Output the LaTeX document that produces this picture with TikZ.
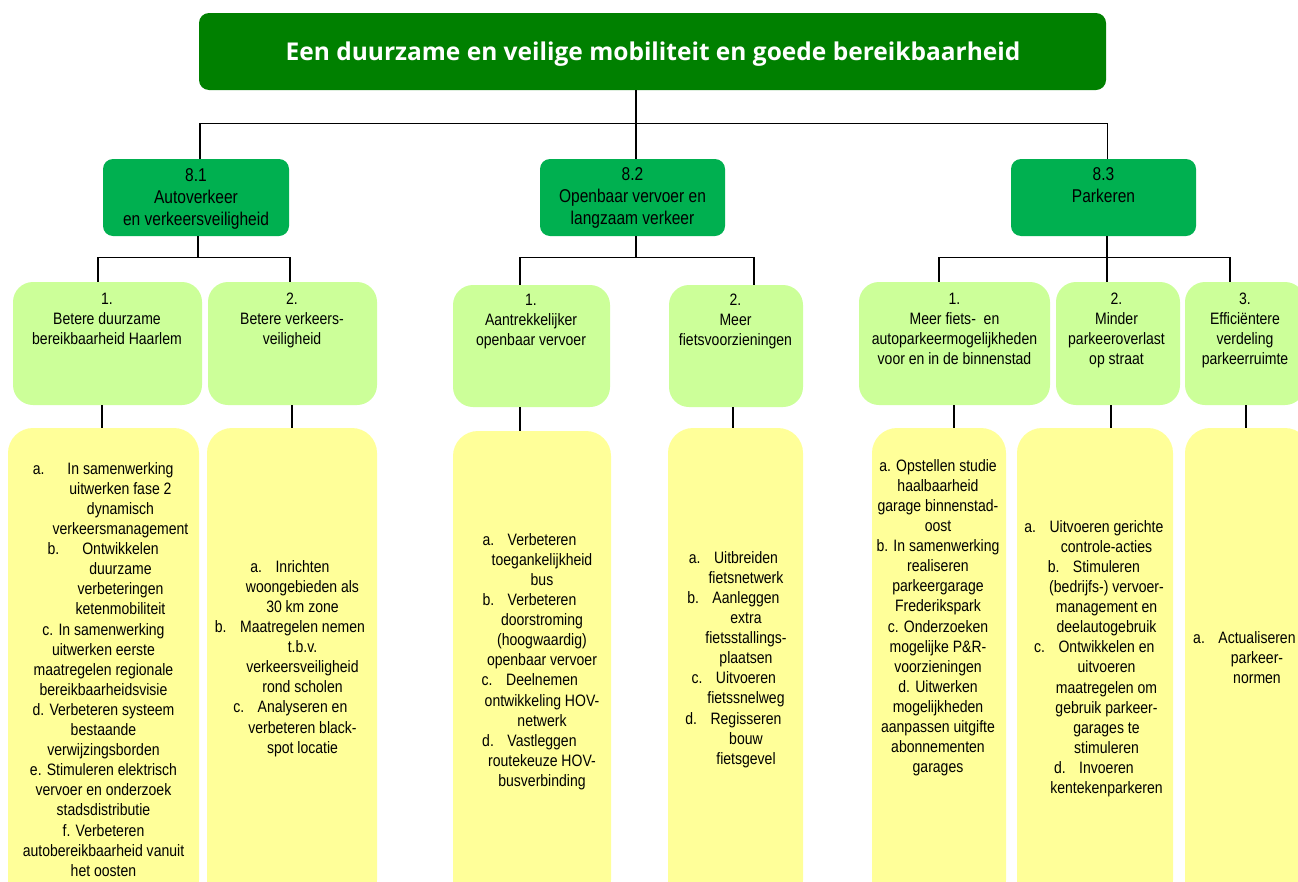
\documentclass[tikz,border=0pt]{standalone}
\usepackage{fontspec}
\setmainfont{Liberation Sans}
\newfontfamily\narrow{Liberation Sans}[FakeStretch=0.85]
\newfontfamily\narrowB{Liberation Sans}[FakeStretch=0.84]
\newfontfamily\titlefont{Open Sans}
\definecolor{dkgreen}{RGB}{0,128,0}
\definecolor{midgreen}{RGB}{0,176,80}
\definecolor{ltgreen}{RGB}{204,255,153}
\definecolor{ylw}{RGB}{255,255,153}
\newcommand\fs{\rule{0pt}{14pt}}
\newcommand\fsb{\rule{0pt}{16pt}}
\newcommand\lab[2]{\llap{#1\hspace{#2}}}
\newcommand\lb[1]{\llap{#1\hspace{13.5pt}}}
\newcommand\sh{\hspace*{34pt}}
\begin{document}
\begin{tikzpicture}[x=1pt,y=-1pt,
  titlebox/.style={fill=dkgreen, rounded corners=10pt, inner sep=0pt, draw=none},
  lvtwo/.style={fill=midgreen, rounded corners=10pt, inner sep=0pt, minimum height=77pt},
  lvthree/.style={fill=ltgreen, rounded corners=20pt, inner sep=0pt},
  lvfour/.style={fill=ylw, rounded corners=25pt, inner sep=0pt},
  txt/.style={align=center, inner sep=0pt, anchor=north, text=black,
    font=\narrow\fontsize{16.5}{20.1}\selectfont},
  txttwo/.style={align=center, inner sep=0pt, anchor=north, text=black,
    font=\narrowB\fontsize{18.5}{22}\selectfont},
  conn/.style={draw=black, line width=1.2pt}]
\useasboundingbox (0,0) rectangle (1298,881);
\clip (0,0) rectangle (1298,881);
\fill[white] (0,0) rectangle (1298,881);

% title
\node[titlebox, minimum width=907pt, minimum height=77pt] (title) at (652.5,51.5) {};
\node[anchor=base, inner sep=0pt, text=white, font=\titlefont\bfseries\fontsize{24.5}{30}\selectfont] (titletxt) at (653,60) {Een duurzame en veilige mobiliteit en goede bereikbaarheid};

% level 2
\node[lvtwo, minimum width=186pt] (l2a) at (196,197.5) {};
\node[lvtwo, minimum width=185pt] (l2b) at (632.5,197.5) {};
\node[lvtwo, minimum width=185pt] (l2c) at (1103.5,197.5) {};
\node[txttwo] (t2a) at (196,165) {\fsb 8.1\\Autoverkeer\\en verkeersveiligheid};
\node[txttwo] (t2b) at (632.5,164) {\fsb 8.2\\Openbaar vervoer en\\langzaam verkeer};
\node[txttwo] (t2c) at (1103.5,164) {\fsb 8.3\\Parkeren};

% level 3
\node[lvthree, minimum width=189pt, minimum height=123pt] (l3a) at (107.5,343.5) {};
\node[lvthree, minimum width=169pt, minimum height=123pt] (l3b) at (292.5,343.5) {};
\node[lvthree, minimum width=157pt, minimum height=122pt] (l3c) at (531.5,346) {};
\node[lvthree, minimum width=134pt, minimum height=122pt] (l3d) at (736,346) {};
\node[lvthree, minimum width=191pt, minimum height=123pt] (l3e) at (954.5,343.5) {};
\node[lvthree, minimum width=124pt, minimum height=123pt] (l3f) at (1118,343.5) {};
\node[lvthree, minimum width=120pt, minimum height=123pt] (l3g) at (1245,343.5) {};
\node[txt] (t3a) at (107,290) {\fs 1.\\Betere duurzame\\bereikbaarheid Haarlem};
\node[txt] (t3b) at (292,290) {\fs 2.\\Betere verkeers-\\veiligheid};
\node[txt] (t3c) at (531,291) {\fs 1.\\Aantrekkelijker\\openbaar vervoer};
\node[txt] (t3d) at (735.5,291) {\fs 2.\\Meer\\fietsvoorzieningen};
\node[txt] (t3e) at (954.5,290) {\fs 1.\\Meer fiets-~ en\\autoparkeermogelijkheden\\voor en in de binnenstad};
\node[txt] (t3f) at (1116.5,290) {\fs 2.\\Minder\\parkeeroverlast\\op straat};
\node[txt] (t3g) at (1245,290) {\fs 3.\\Efficiëntere\\verdeling\\parkeerruimte};

% level 4
\node[lvfour, minimum width=191pt, minimum height=477pt] (l4a) at (103.5,666.5) {};
\node[lvfour, minimum width=170pt, minimum height=477pt] (l4b) at (292,666.5) {};
\node[lvfour, minimum width=158pt, minimum height=474pt] (l4c) at (532,668) {};
\node[lvfour, minimum width=135pt, minimum height=477pt] (l4d) at (735.5,666.5) {};
\node[lvfour, minimum width=134pt, minimum height=477pt] (l4e) at (939,666.5) {};
\node[lvfour, minimum width=156pt, minimum height=477pt] (l4f) at (1095,666.5) {};
\node[lvfour, minimum width=125pt, minimum height=477pt] (l4g) at (1247.5,666.5) {};

\node[txt] (t4a) at (103.5,460) {\fs\sh\lab{a.}{23pt}In samenwerking\\
\sh uitwerken fase 2\\
\sh dynamisch\\
\sh verkeersmanagement\\
\sh\lab{b.}{23pt}Ontwikkelen\\
\sh duurzame\\
\sh verbeteringen\\
\sh ketenmobiliteit\\
c. In samenwerking\\
uitwerken eerste\\
maatregelen regionale\\
bereikbaarheidsvisie\\
d. Verbeteren systeem\\
bestaande\\
verwijzingsborden\\
e. Stimuleren elektrisch\\
vervoer en onderzoek\\
stadsdistributie\\
f. Verbeteren\\
autobereikbaarheid vanuit\\
het oosten};

\node[txt] (t4b) at (302.5,558) {\fs\lb{a.}Inrichten\\woongebieden als\\30 km zone\\
\lb{b.}Maatregelen nemen\\t.b.v.\\verkeersveiligheid\\rond scholen\\
\lb{c.}Analyseren en\\verbeteren black-\\spot locatie};

\node[txt] (t4c) at (542,531) {\fs\lb{a.}Verbeteren\\toegankelijkheid\\bus\\
\lb{b.}Verbeteren\\doorstroming\\(hoogwaardig)\\openbaar vervoer\\
\lb{c.}Deelnemen\\ontwikkeling HOV-\\netwerk\\
\lb{d.}Vastleggen\\routekeuze HOV-\\busverbinding};

\node[txt] (t4d) at (746,549) {\fs\lb{a.}Uitbreiden\\fietsnetwerk\\
\lb{b.}Aanleggen\\extra\\fietsstallings-\\plaatsen\\
\lb{c.}Uitvoeren\\fietssnelweg\\
\lb{d.}Regisseren\\bouw\\fietsgevel};

\node[txt] (t4e) at (938,457) {\fs a. Opstellen studie\\haalbaarheid\\garage binnenstad-\\oost\\
b. In samenwerking\\realiseren\\parkeergarage\\Frederikspark\\
c. Onderzoeken\\mogelijke P\&R-\\voorzieningen\\
d. Uitwerken\\mogelijkheden\\aanpassen uitgifte\\abonnementen\\garages};

\node[txt] (t4f) at (1106.5,518) {\fs\lb{a.}Uitvoeren gerichte\\controle-acties\\
\lb{b.}Stimuleren\\(bedrijfs-) vervoer-\\management en\\deelautogebruik\\
\lb{c.}Ontwikkelen en\\uitvoeren\\maatregelen om\\gebruik parkeer-\\garages te\\stimuleren\\
\lb{d.}Invoeren\\kentekenparkeren};

\node[txt] (t4g) at (1257,629) {\fs\lb{a.}Actualiseren\\parkeer-\\normen};

% connectors: title to level 2
\draw[conn] ([xshift=-16.5pt]title.south) -- ++(0,34);
\draw[conn] ([xshift=4pt]l2a.north) -- ++(0,-35) -| ([xshift=4pt]l2c.north);
\draw[conn] ([xshift=3.5pt]l2b.north) -- ++(0,-35);

% level 2 to level 3
\draw[conn] ([xshift=2pt]l2a.south) -- ++(0,22);
\draw[conn] ([xshift=-9.5pt]l3a.north) -- ++(0,-24) -| ([xshift=-2.5pt]l3b.north);
\draw[conn] ([xshift=3.5pt]l2b.south) -- ++(0,22);
\draw[conn] ([xshift=-11.5pt]l3c.north) -- ++(0,-27) -| ([xshift=18pt]l3d.north);
\draw[conn] ([xshift=3.5pt]l2c.south) -- ([xshift=3.5pt]l2c.south |- l3f.north);
\draw[conn] ([xshift=-15.5pt]l3e.north) -- ++(0,-24) -| ([xshift=-15pt]l3g.north);

% level 3 to level 4
\draw[conn] ([xshift=-5.5pt]l3a.south) -- ([xshift=-5.5pt]l3a.south |- l4a.north);
\draw[conn] ([xshift=-0.5pt]l3b.south) -- ([xshift=-0.5pt]l3b.south |- l4b.north);
\draw[conn] ([xshift=-11.5pt]l3c.south) -- ([xshift=-11.5pt]l3c.south |- l4c.north);
\draw[conn] ([xshift=-3pt]l3d.south) -- ([xshift=-3pt]l3d.south |- l4d.north);
\draw[conn] ([xshift=-0.5pt]l3e.south) -- ([xshift=-0.5pt]l3e.south |- l4e.north);
\draw[conn] ([xshift=-7pt]l3f.south) -- ([xshift=-7pt]l3f.south |- l4f.north);
\draw[conn] ([xshift=1pt]l3g.south) -- ([xshift=1pt]l3g.south |- l4g.north);
\end{tikzpicture}
\end{document}
